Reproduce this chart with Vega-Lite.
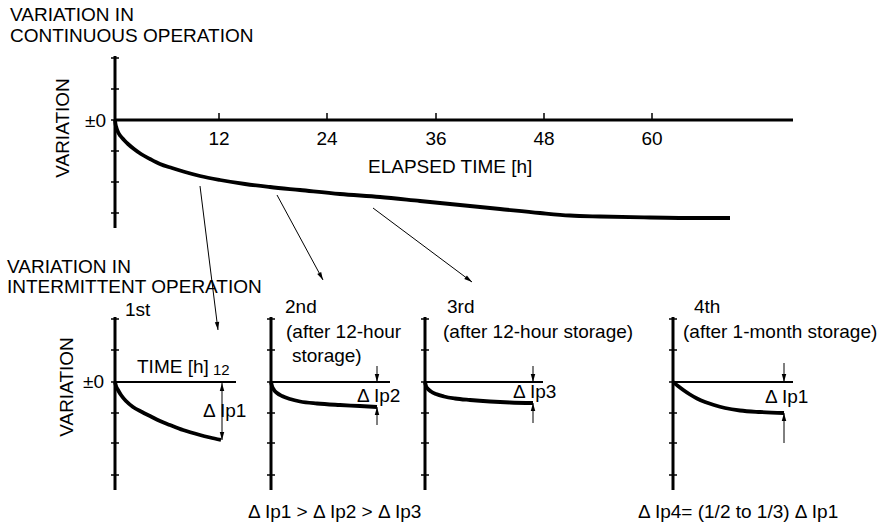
{
  "$schema": "https://vega.github.io/schema/vega-lite/v6.json",
  "width": 885,
  "height": 527,
  "padding": 0,
  "autosize": {"type": "fit", "contains": "padding"},
  "background": "white",
  "config": {"view": {"stroke": null}},
  "datasets": {
    "curves": [
      {"c":"top","x":115,"y":120},{"c":"top","x":115.5,"y":124},{"c":"top","x":116.5,"y":128},{"c":"top","x":118,"y":132},{"c":"top","x":120.5,"y":136},{"c":"top","x":124,"y":140},{"c":"top","x":128,"y":144},{"c":"top","x":134,"y":149},{"c":"top","x":141,"y":154},{"c":"top","x":150,"y":159},{"c":"top","x":160,"y":164},{"c":"top","x":172,"y":168},{"c":"top","x":185,"y":172},{"c":"top","x":200,"y":176},{"c":"top","x":220,"y":180},{"c":"top","x":245,"y":184},{"c":"top","x":270,"y":187},{"c":"top","x":300,"y":190},{"c":"top","x":340,"y":194},{"c":"top","x":380,"y":197},{"c":"top","x":420,"y":201},{"c":"top","x":460,"y":205},{"c":"top","x":500,"y":209},{"c":"top","x":540,"y":213},{"c":"top","x":570,"y":215.5},{"c":"top","x":600,"y":216.5},{"c":"top","x":650,"y":217.5},{"c":"top","x":700,"y":218},{"c":"top","x":730,"y":218},
      {"c":"p1","x":115,"y":382},{"c":"p1","x":116,"y":386},{"c":"p1","x":118,"y":390},{"c":"p1","x":121,"y":395},{"c":"p1","x":126,"y":401},{"c":"p1","x":133,"y":407},{"c":"p1","x":142,"y":412},{"c":"p1","x":150,"y":416},{"c":"p1","x":160,"y":421},{"c":"p1","x":170,"y":425},{"c":"p1","x":183,"y":430},{"c":"p1","x":200,"y":435},{"c":"p1","x":210,"y":437.5},{"c":"p1","x":221,"y":440},
      {"c":"p2","x":271,"y":382},{"c":"p2","x":272,"y":386},{"c":"p2","x":274,"y":390},{"c":"p2","x":277,"y":393},{"c":"p2","x":282,"y":396},{"c":"p2","x":290,"y":399},{"c":"p2","x":300,"y":401.5},{"c":"p2","x":317,"y":403.5},{"c":"p2","x":340,"y":405},{"c":"p2","x":360,"y":406},{"c":"p2","x":377,"y":407},
      {"c":"p3","x":425,"y":382},{"c":"p3","x":426,"y":386},{"c":"p3","x":428,"y":389},{"c":"p3","x":431,"y":391.5},{"c":"p3","x":436,"y":394},{"c":"p3","x":444,"y":396.5},{"c":"p3","x":455,"y":398.5},{"c":"p3","x":470,"y":400},{"c":"p3","x":490,"y":401.5},{"c":"p3","x":510,"y":402.5},{"c":"p3","x":533,"y":403},
      {"c":"p4","x":673,"y":382},{"c":"p4","x":678,"y":386},{"c":"p4","x":684,"y":390.5},{"c":"p4","x":690,"y":394.5},{"c":"p4","x":697,"y":398.5},{"c":"p4","x":705,"y":402},{"c":"p4","x":714,"y":405},{"c":"p4","x":725,"y":408},{"c":"p4","x":740,"y":410.5},{"c":"p4","x":760,"y":412},{"c":"p4","x":784,"y":413}
    ],
    "axes": [
      {"x":115,"y":56,"x2":115,"y2":228},
      {"x":115,"y":120,"x2":793,"y2":120},
      {"x":115,"y":317,"x2":115,"y2":490},
      {"x":271,"y":317,"x2":271,"y2":490},
      {"x":425,"y":317,"x2":425,"y2":490},
      {"x":673,"y":317,"x2":673,"y2":490}
    ],
    "zeros": [
      {"x":115,"y":382,"x2":236,"y2":382},
      {"x":271,"y":382,"x2":390,"y2":382},
      {"x":425,"y":382,"x2":543,"y2":382},
      {"x":673,"y":382,"x2":793,"y2":382}
    ],
    "ticks": [
      {"x":111,"y":58,"x2":119,"y2":58},{"x":111,"y":89,"x2":119,"y2":89},{"x":111,"y":120,"x2":119,"y2":120},{"x":111,"y":151,"x2":119,"y2":151},{"x":111,"y":182,"x2":119,"y2":182},{"x":111,"y":213,"x2":119,"y2":213},
      {"x":219,"y":113,"x2":219,"y2":120},{"x":327,"y":113,"x2":327,"y2":120},{"x":436,"y":113,"x2":436,"y2":120},{"x":544,"y":113,"x2":544,"y2":120},{"x":652,"y":113,"x2":652,"y2":120},
      {"x":111,"y":319,"x2":119,"y2":319},{"x":111,"y":350,"x2":119,"y2":350},{"x":111,"y":382,"x2":119,"y2":382},{"x":111,"y":413,"x2":119,"y2":413},{"x":111,"y":443,"x2":119,"y2":443},{"x":111,"y":475,"x2":119,"y2":475},
      {"x":267,"y":319,"x2":275,"y2":319},{"x":267,"y":350,"x2":275,"y2":350},{"x":267,"y":382,"x2":275,"y2":382},{"x":267,"y":413,"x2":275,"y2":413},{"x":267,"y":443,"x2":275,"y2":443},{"x":267,"y":475,"x2":275,"y2":475},
      {"x":421,"y":319,"x2":429,"y2":319},{"x":421,"y":350,"x2":429,"y2":350},{"x":421,"y":382,"x2":429,"y2":382},{"x":421,"y":413,"x2":429,"y2":413},{"x":421,"y":443,"x2":429,"y2":443},{"x":421,"y":475,"x2":429,"y2":475},
      {"x":669,"y":319,"x2":677,"y2":319},{"x":669,"y":350,"x2":677,"y2":350},{"x":669,"y":382,"x2":677,"y2":382},{"x":669,"y":413,"x2":677,"y2":413},{"x":669,"y":443,"x2":677,"y2":443},{"x":669,"y":475,"x2":677,"y2":475}
    ],
    "leaders": [
      {"x":200,"y":186,"x2":218,"y2":330},
      {"x":277,"y":195,"x2":323,"y2":280},
      {"x":373,"y":208,"x2":472,"y2":282},
      {"x":222,"y":383,"x2":222,"y2":440},
      {"x":377,"y":366,"x2":377,"y2":382},
      {"x":377,"y":407,"x2":377,"y2":425},
      {"x":533,"y":366,"x2":533,"y2":382},
      {"x":533,"y":403,"x2":533,"y2":423},
      {"x":784,"y":363,"x2":784,"y2":382},
      {"x":784,"y":413,"x2":784,"y2":443}
    ],
    "heads": [
      {"x":218,"y":330,"dir":172.9},
      {"x":323,"y":280,"dir":151.6},
      {"x":472,"y":282,"dir":126.8},
      {"x":222,"y":383,"dir":0},
      {"x":222,"y":440,"dir":180},
      {"x":377,"y":382,"dir":180},
      {"x":377,"y":407,"dir":0},
      {"x":533,"y":382,"dir":180},
      {"x":533,"y":403,"dir":0},
      {"x":784,"y":382,"dir":180},
      {"x":784,"y":413,"dir":0}
    ],
    "labels": [
      {"x":10,"y":21,"t":"VARIATION IN"},
      {"x":10,"y":42,"t":"CONTINUOUS OPERATION"},
      {"x":85,"y":127,"t":"±0"},
      {"x":368,"y":173,"t":"ELAPSED TIME [h]"},
      {"x":7,"y":273,"t":"VARIATION IN"},
      {"x":7,"y":293,"t":"INTERMITTENT OPERATION"},
      {"x":125,"y":316,"t":"1st"},
      {"x":83,"y":388,"t":"±0"},
      {"x":137,"y":373,"t":"TIME [h]"},
      {"x":203,"y":417,"t":"Δ Ip1"},
      {"x":285,"y":313,"t":"2nd"},
      {"x":286,"y":338,"t":"(after 12-hour"},
      {"x":292,"y":362,"t":"storage)"},
      {"x":357,"y":402,"t":"Δ Ip2"},
      {"x":447,"y":313,"t":"3rd"},
      {"x":443,"y":338,"t":"(after 12-hour storage)"},
      {"x":513,"y":398,"t":"Δ Ip3"},
      {"x":694,"y":313,"t":"4th"},
      {"x":683,"y":338,"t":"(after 1-month storage)"},
      {"x":765,"y":403,"t":"Δ Ip1"},
      {"x":248,"y":518,"t":"Δ Ip1 > Δ Ip2 > Δ Ip3"},
      {"x":638,"y":518,"t":"Δ Ip4= (1/2 to 1/3)  Δ Ip1"}
    ],
    "ticklabels": [
      {"x":219,"y":145,"t":"12"},
      {"x":327,"y":145,"t":"24"},
      {"x":436,"y":145,"t":"36"},
      {"x":544,"y":145,"t":"48"},
      {"x":652,"y":145,"t":"60"}
    ],
    "sublabels": [
      {"x":213,"y":375,"t":"12"}
    ],
    "vlabels": [
      {"x":63,"y":128,"t":"VARIATION"},
      {"x":67,"y":387,"t":"VARIATION"}
    ]
  },
  "encoding": {
    "x": {"field":"x","type":"quantitative","scale":{"domain":[0,885],"nice":false,"zero":false},"axis":null},
    "y": {"field":"y","type":"quantitative","scale":{"domain":[0,527],"reverse":true,"nice":false,"zero":false},"axis":null}
  },
  "layer": [
    {
      "data": {"name":"curves"},
      "mark": {"type":"line","color":"black","strokeWidth":3.8,"interpolate":"monotone","strokeCap":"butt"},
      "encoding": {"detail":{"field":"c"}}
    },
    {
      "data": {"name":"axes"},
      "mark": {"type":"rule","color":"black","strokeWidth":3},
      "encoding": {"x2":{"field":"x2"},"y2":{"field":"y2"}}
    },
    {
      "data": {"name":"zeros"},
      "mark": {"type":"rule","color":"black","strokeWidth":2.2},
      "encoding": {"x2":{"field":"x2"},"y2":{"field":"y2"}}
    },
    {
      "data": {"name":"ticks"},
      "mark": {"type":"rule","color":"black","strokeWidth":1.5},
      "encoding": {"x2":{"field":"x2"},"y2":{"field":"y2"}}
    },
    {
      "data": {"name":"leaders"},
      "mark": {"type":"rule","color":"black","strokeWidth":1},
      "encoding": {"x2":{"field":"x2"},"y2":{"field":"y2"}}
    },
    {
      "data": {"name":"heads"},
      "mark": {"type":"point","shape":"M0,0L-0.28,1L0.28,1Z","filled":true,"size":256,"color":"black","opacity":1,"strokeWidth":0},
      "encoding": {"angle":{"field":"dir","type":"quantitative","scale":null}}
    },
    {
      "data": {"name":"labels"},
      "mark": {"type":"text","align":"left","baseline":"alphabetic","font":"Liberation Sans","fontSize":19,"color":"black"},
      "encoding": {"text":{"field":"t"}}
    },
    {
      "data": {"name":"ticklabels"},
      "mark": {"type":"text","align":"center","baseline":"alphabetic","font":"Liberation Sans","fontSize":19,"color":"black"},
      "encoding": {"text":{"field":"t"}}
    },
    {
      "data": {"name":"sublabels"},
      "mark": {"type":"text","align":"left","baseline":"alphabetic","font":"Liberation Sans","fontSize":15,"color":"black"},
      "encoding": {"text":{"field":"t"}}
    },
    {
      "data": {"name":"vlabels"},
      "mark": {"type":"text","align":"center","baseline":"middle","angle":270,"font":"Liberation Sans","fontSize":19,"color":"black"},
      "encoding": {"text":{"field":"t"}}
    }
  ]
}
